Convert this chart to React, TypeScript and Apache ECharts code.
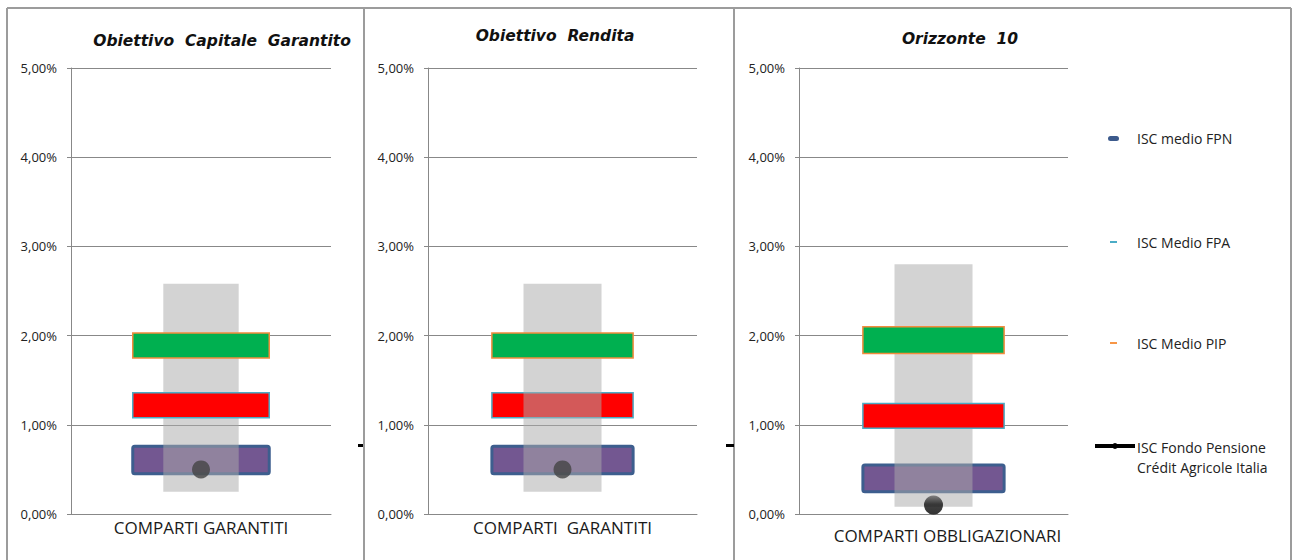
import React, { useEffect, useRef } from "react";
import * as echarts from "echarts";

const titles = ["Obiettivo  Capitale  Garantito", "Obiettivo  Rendita", "Orizzonte  10"];
const categories = ["COMPARTI GARANTITI", "COMPARTI  GARANTITI", "COMPARTI OBBLIGAZIONARI"];
const yTicks = [0, 1, 2, 3, 4, 5];
const rangeLow = [0.25, 0.25, 0.08];
const rangeHigh = [2.58, 2.58, 2.8];
const fpnLow = [0.45, 0.45, 0.25];
const fpnHigh = [0.76, 0.76, 0.55];
const fpaLow = [1.08, 1.08, 0.96];
const fpaHigh = [1.36, 1.36, 1.24];
const pipLow = [1.75, 1.75, 1.8];
const pipHigh = [2.03, 2.03, 2.1];
const fondo = [0.5, 0.5, 0.1];
const legendNames = ["ISC medio FPN", "ISC Medio FPA", "ISC Medio PIP", "ISC Fondo Pensione\nCrédit Agricole Italia"];

const grids = [
  { left: 71, width: 260 },
  { left: 428, width: 269 },
  { left: 799, width: 269 },
];

function boxRenderer(frac: number, style: any, r = 0) {
  return (params: any, api: any) => {
    const x = api.value(0);
    const lo = api.value(1);
    const hi = api.value(2);
    const p1 = api.coord([x, hi]);
    const p2 = api.coord([x, lo]);
    const bw = api.size([1, 0])[0] * frac;
    return {
      type: "rect",
      shape: { x: p1[0] - bw / 2, y: p1[1], width: bw, height: p2[1] - p1[1], r },
      style,
    };
  };
}

export default function App() {
  const ref = useRef<HTMLDivElement>(null);
  useEffect(() => {
    const chart = echarts.init(ref.current!, null, { renderer: "svg" });
    const series: any[] = [];
    grids.forEach((_, i) => {
      series.push({
        type: "custom",
        name: legendNames[0],
        xAxisIndex: i,
        yAxisIndex: i,
        z: 1,
        encode: { x: 0, y: [1, 2] },
        renderItem: boxRenderer(0.525, { fill: "#735791", stroke: "#3d5e8e", lineWidth: 3 }, 2),
        data: [[0, fpnLow[i], fpnHigh[i]]],
      });
      series.push({
        type: "custom",
        name: "range",
        xAxisIndex: i,
        yAxisIndex: i,
        z: i === 1 ? 4 : 2,
        encode: { x: 0, y: [1, 2] },
        renderItem: boxRenderer(0.29, { fill: "#ababab", opacity: 0.52 }),
        data: [[0, rangeLow[i], rangeHigh[i]]],
      });
      series.push({
        type: "custom",
        name: legendNames[1],
        xAxisIndex: i,
        yAxisIndex: i,
        z: 3,
        encode: { x: 0, y: [1, 2] },
        renderItem: boxRenderer(0.525, { fill: "#ff0000", stroke: "#4bacc6", lineWidth: 1.5 }),
        data: [[0, fpaLow[i], fpaHigh[i]]],
      });
      series.push({
        type: "custom",
        name: legendNames[2],
        xAxisIndex: i,
        yAxisIndex: i,
        z: 5,
        encode: { x: 0, y: [1, 2] },
        renderItem: boxRenderer(0.525, { fill: "#00b050", stroke: "#f38b3d", lineWidth: 1.5 }),
        data: [[0, pipLow[i], pipHigh[i]]],
      });
      series.push({
        type: "scatter",
        name: legendNames[3],
        xAxisIndex: i,
        yAxisIndex: i,
        z: 6,
        symbolSize: i === 2 ? 19 : 18,
        itemStyle:
          i === 2
            ? {
                color: new echarts.graphic.LinearGradient(0, 0, 0, 1, [
                  { offset: 0, color: "#6a6a6a" },
                  { offset: 0.45, color: "#111" },
                  { offset: 1, color: "#000" },
                ]),
              }
            : { color: "#434343" },
        data: [[0, fondo[i]]],
      });
    });

    const frame = "#9c9c9c";
    const graphic: any[] = [
      { type: "line", shape: { x1: 7, y1: 8, x2: 1291, y2: 8 }, style: { stroke: frame, lineWidth: 2 } },
      { type: "line", shape: { x1: 7, y1: 8, x2: 7, y2: 560 }, style: { stroke: frame, lineWidth: 2 } },
      { type: "line", shape: { x1: 1291, y1: 8, x2: 1291, y2: 560 }, style: { stroke: frame, lineWidth: 2 } },
      { type: "line", shape: { x1: 364, y1: 8, x2: 364, y2: 560 }, style: { stroke: frame, lineWidth: 2 } },
      { type: "line", shape: { x1: 734, y1: 8, x2: 734, y2: 560 }, style: { stroke: frame, lineWidth: 2 } },
      { type: "rect", shape: { x: 358, y: 444, width: 5, height: 3 }, style: { fill: "#000" } },
      { type: "rect", shape: { x: 726, y: 444, width: 8, height: 3 }, style: { fill: "#000" } },
      // legend
      { type: "rect", shape: { x: 1108, y: 136, width: 11, height: 5, r: 2.5 }, style: { fill: "#3c5a8c" } },
      { type: "rect", shape: { x: 1110, y: 241, width: 7, height: 2 }, style: { fill: "#4bacc6" } },
      { type: "rect", shape: { x: 1110, y: 342, width: 7, height: 2 }, style: { fill: "#f79646" } },
      { type: "line", shape: { x1: 1095, y1: 446, x2: 1135, y2: 446 }, style: { stroke: "#000", lineWidth: 4 } },
      { type: "circle", shape: { cx: 1115, cy: 446, r: 3 }, style: { fill: "#000" } },
    ];
    const legendY = [138, 242, 343, 447];
    legendNames.forEach((n, k) => {
      graphic.push({
        type: "text",
        x: 1137,
        y: k === 3 ? legendY[k] - 10 : legendY[k],
        style: {
          text: n,
          fill: "#222",
          font: '14px "Open Sans"',
          lineHeight: 20,
          verticalAlign: k === 3 ? "top" : "middle",
        },
      });
    });

    const titlePos = [
      { x: 217, y: 40 },
      { x: 550, y: 35 },
      { x: 955, y: 38 },
    ];

    chart.setOption({
      animation: false,
      title: titles.map((t, i) => ({
        text: t,
        left: titlePos[i].x,
        top: titlePos[i].y - 12,
        textAlign: "center",
        textStyle: {
          fontFamily: "DejaVu Sans",
          fontStyle: "italic",
          fontWeight: "bold",
          fontSize: 15.5,
          color: "#111",
        },
      })),
      grid: grids.map((g) => ({ left: g.left, width: g.width, top: 68, height: 446 })),
      xAxis: grids.map((_, i) => ({
        type: "category",
        gridIndex: i,
        data: [categories[i]],
        axisLine: { show: true, lineStyle: { color: "#888", width: 1 } },
        axisTick: { show: false },
        axisLabel: {
          fontFamily: "Open Sans",
          fontSize: 17,
          color: "#1a1a1a",
          margin: i === 2 ? 13 : 5,
          padding: i === 2 ? [0, 0, 0, 28] : 0,
        },
      })),
      yAxis: grids.map((_, i) => ({
        type: "value",
        gridIndex: i,
        min: yTicks[0],
        max: yTicks[yTicks.length - 1],
        interval: 1,
        axisLine: { show: true, lineStyle: { color: "#888", width: 1 } },
        axisTick: { show: true, length: 4, lineStyle: { color: "#888" } },
        splitLine: { show: true, lineStyle: { color: "#888", width: 1 } },
        axisLabel: {
          fontFamily: "Open Sans",
          fontSize: 13,
          color: "#222",
          margin: 14,
          formatter: (v: number) => v.toFixed(2).replace(".", ",") + "%",
        },
      })),
      series,
      graphic,
    });
    return () => chart.dispose();
  }, []);
  return (
    <div
      ref={ref}
      style={{ position: "fixed", left: 0, top: 0, width: 1292, height: 560, background: "#fff" }}
    />
  );
}
